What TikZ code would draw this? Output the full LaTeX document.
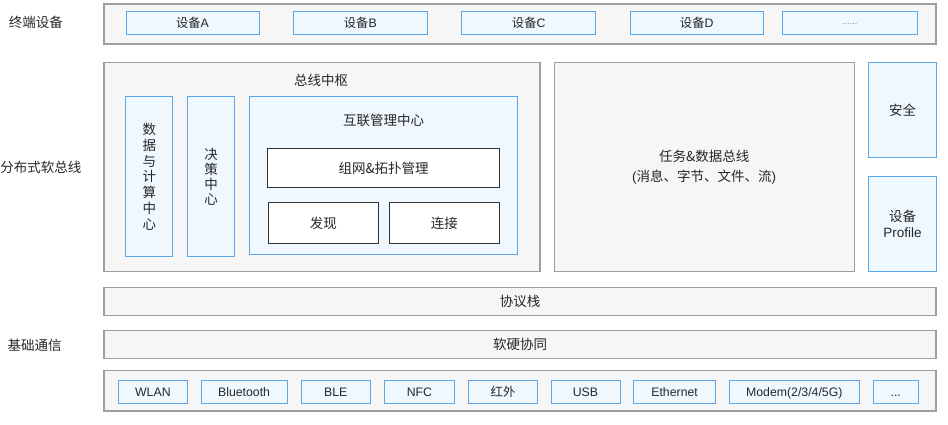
\documentclass[tikz,border=0pt]{standalone}
\usepackage{fontspec}
\setmainfont{Liberation Sans}
\newfontfamily\cjk{Noto Sans CJK SC}
\newcommand\zh[1]{{\cjk #1}}
\definecolor{gline}{HTML}{9E9E9E}
\definecolor{gfill}{HTML}{F6F6F6}
\definecolor{bline}{HTML}{5AA6E6}
\definecolor{bfill}{HTML}{F0F8FF}
\definecolor{wline}{HTML}{333333}
\definecolor{txt}{HTML}{262626}
\begin{document}
\begin{tikzpicture}[x=1pt,y=-1pt,
  every node/.style={inner sep=0pt, outer sep=0pt, text=txt},
  gbox/.style={draw=gline, fill=gfill, line width=1.1pt},
  bbox/.style={draw=bline, fill=bfill, line width=1pt},
  wbox/.style={draw=wline, fill=white, line width=1pt},
  big/.style={font=\fontsize{13.5}{16}\selectfont},
  small/.style={font=\fontsize{12.3}{14}\selectfont, text height=10pt, text depth=1.2pt},
  lbl/.style={big}
]
\useasboundingbox (0,0) rectangle (948,424);

% side labels
\node[lbl] (l1) at (36,22) {\zh{终端设备}};
\node[lbl, anchor=west] (l2) at (0.5,167) {\zh{分布式软总线}};
\node[lbl] (l3) at (34.5,345) {\zh{基础通信}};

% top row
\node[gbox, minimum width=832pt, minimum height=40pt] (top) at (520,24) {};
\node[bbox, small, minimum width=133pt, minimum height=23pt] (dA) at (192.5,23) {\zh{设备}A};
\node[bbox, small, minimum width=134pt, minimum height=23pt] (dB) at (360.3,23) {\zh{设备}B};
\node[bbox, small, minimum width=134pt, minimum height=23pt] (dC) at (528.7,23) {\zh{设备}C};
\node[bbox, small, minimum width=133pt, minimum height=23pt] (dD) at (696.7,23) {\zh{设备}D};
\node[bbox, font=\fontsize{9}{10}\selectfont, text=gray, minimum width=135pt, minimum height=23pt] (dE) at (849.8,23) {\raisebox{-2pt}{......}};

% bus hub
\node[gbox, minimum width=436pt, minimum height=209pt] (hub) at (322,167.2) {};
\node[big] (hubt) at (321,80) {\zh{总线中枢}};
\node[bbox, big, align=center, font=\fontsize{13.5}{15.8}\selectfont, minimum width=47pt, minimum height=160pt] (data) at (149.3,176.7)
  {\zh{数}\\\zh{据}\\\zh{与}\\\zh{计}\\\zh{算}\\\zh{中}\\\zh{心}};
\node[bbox, big, align=center, font=\fontsize{13.5}{15}\selectfont, minimum width=47pt, minimum height=160pt] (dec) at (211,176.7)
  {\zh{决}\\\zh{策}\\\zh{中}\\\zh{心}};
\node[bbox, minimum width=268.6pt, minimum height=158.3pt] (ic) at (383.6,175.8) {};
\node[big] (ict) at (383.6,120) {\zh{互联管理中心}};
\node[wbox, big, minimum width=231.3pt, minimum height=39.4pt] (net) at (383.6,168) {\zh{组网\&拓扑管理}};
\node[wbox, big, minimum width=110.6pt, minimum height=40.6pt] (disc) at (323.3,223) {\zh{发现}};
\node[wbox, big, minimum width=110pt, minimum height=40.6pt] (conn) at (444.3,223) {\zh{连接}};

% task & data bus
\node[gbox, big, align=center, minimum width=300.3pt, minimum height=209pt, font=\fontsize{13.5}{19.4}\selectfont] (tbus) at (704.2,167.2)
  {\zh{任务\&数据总线}\\(\zh{消息、字节、文件、流})};
\node[bbox, big, minimum width=68.4pt, minimum height=94.6pt] (sec) at (902.5,110) {\zh{安全}};
\node[bbox, big, align=center, minimum width=68.4pt, minimum height=95pt, font=\fontsize{13.5}{16}\selectfont] (prof) at (902.5,224.2) {\zh{设备}\\Profile};

% base communication
\node[gbox, big, minimum width=832pt, minimum height=28pt] (proto) at (520,301.3) {\zh{协议栈}};
\node[gbox, big, minimum width=832pt, minimum height=28.3pt] (hw) at (520,344.2) {\zh{软硬协同}};
\node[gbox, minimum width=832pt, minimum height=40.3pt] (phy) at (520,390.8) {};
\node[bbox, small, minimum width=69pt, minimum height=23.3pt] (p1) at (152.9,391.7) {WLAN};
\node[bbox, small, minimum width=85.8pt, minimum height=23.3pt] (p2) at (244.1,391.7) {Bluetooth};
\node[bbox, small, minimum width=69.4pt, minimum height=23.3pt] (p3) at (335.7,391.7) {BLE};
\node[bbox, small, minimum width=70pt, minimum height=23.3pt] (p4) at (419.4,391.7) {NFC};
\node[bbox, small, minimum width=69.5pt, minimum height=23.3pt] (p5) at (503,391.7) {\zh{红外}};
\node[bbox, small, minimum width=69pt, minimum height=23.3pt] (p6) at (585.5,391.7) {USB};
\node[bbox, small, minimum width=81.6pt, minimum height=23.3pt] (p7) at (674.6,391.7) {Ethernet};
\node[bbox, small, minimum width=130pt, minimum height=23.3pt] (p8) at (794.3,391.7) {Modem(2/3/4/5G)};
\node[bbox, small, minimum width=45.4pt, minimum height=23.3pt] (p9) at (895.7,391.7) {...};
\end{tikzpicture}
\end{document}
